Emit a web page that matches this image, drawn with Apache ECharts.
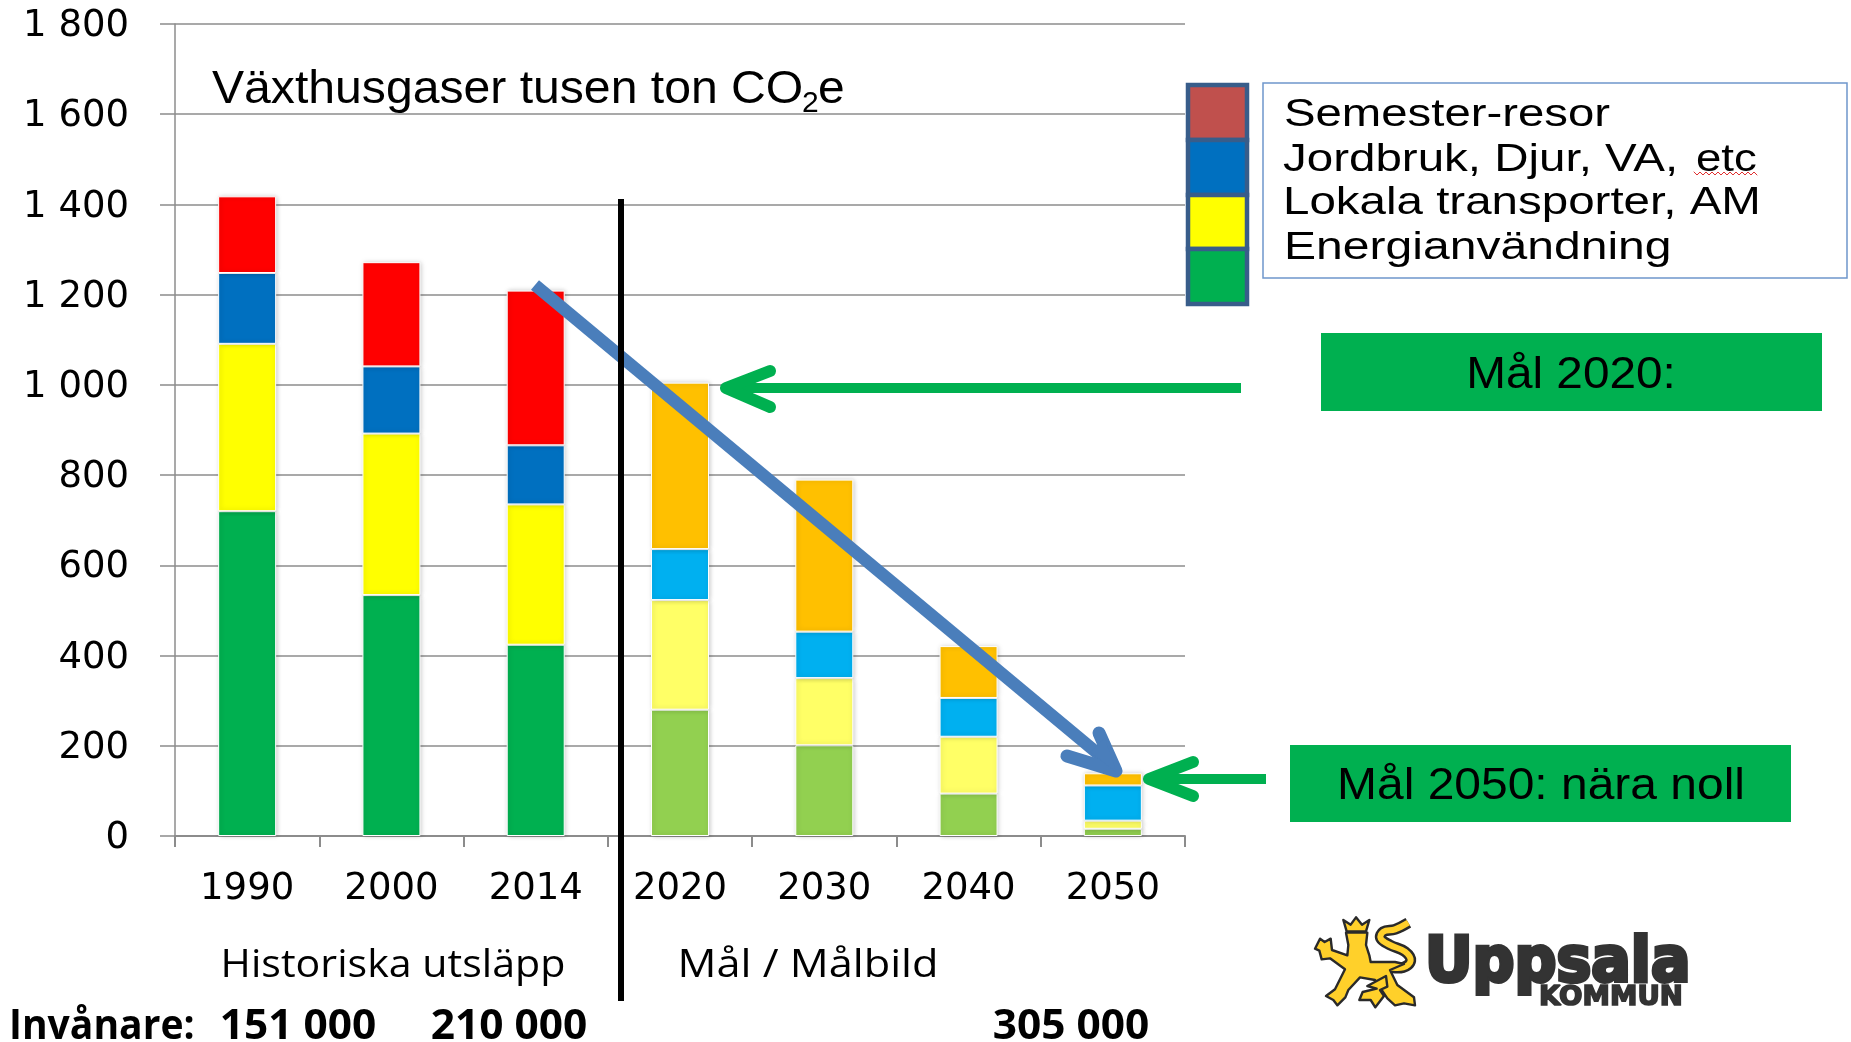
<!DOCTYPE html>
<html><head><meta charset="utf-8">
<style>html,body{margin:0;padding:0;background:#fff}#c{width:1851px;height:1042px}</style>
<script src="https://cdn.jsdelivr.net/npm/echarts@6/dist/echarts.min.js"></script>
</head><body><div id="c"></div>
<script>
const categories = ['1990','2000','2014','2020','2030','2040','2050'];
const energianvandning = [720,534,424,280,201,94,16];
const lokalaTransporter = [371,358,311,243,149,126,18];
const jordbruk = [157,149,131,113,103,86,78];
const semesterresor = [170,231,343,369,337,115,27];
const historicColors = ['#00B050','#FFFF00','#0070C0','#FF0000'];
const goalColors = ['#92D050','#FFFF66','#00B0F0','#FFC000'];
const seriesNames = ['Energianvändning','Lokala transporter, AM','Jordbruk, Djur, VA, etc','Semester-resor'];
const seriesValues = [energianvandning,lokalaTransporter,jordbruk,semesterresor];
const legendLines = ['Semester-resor','Jordbruk, Djur, VA,','etc','Lokala transporter, AM','Energianvändning'];
const historicCount = 3;

const chart = echarts.init(document.getElementById('c'),null,{renderer:'canvas'});
const sans='"Liberation Sans",Arial,sans-serif', wide='"DejaVu Sans",sans-serif', cal='"Open Sans",sans-serif';
const axisGrey='#8C8C8C';
function txt(s,x,y,size,o){o=o||{};return {type:'text',x:x,y:y,z:o.z||30,originX:0,originY:0,scaleX:o.sx||1,scaleY:o.sy||1,style:{text:s,x:0,y:0,font:(o.w||'normal')+' '+size+'px '+(o.f||sans),fill:o.c||'#000',align:o.a||'left',verticalAlign:'middle',stroke:o.st,lineWidth:o.lw||0}};}
function poly(pts,color,w,z,cap){return {type:'polyline',z:z||25,shape:{points:pts},style:{stroke:color,lineWidth:w,lineCap:cap||'round',lineJoin:cap?'miter':'round',fill:null}};}
function rect(x,y,w,h,fill,stroke,lw,z){return {type:'rect',z:z||20,shape:{x,y,width:w,height:h},style:{fill:fill,stroke:stroke,lineWidth:lw||0}};}

const wavy=[];for(let i=0,x=1694;x<=1758;i++,x+=3)wavy.push([x,i%2?175:172]);

// logo outline, in 3× logo-crop units
const lg=p=>p.map(([x,y])=>[1280+x/3,890+y/3]);
const lionBody=[[105,176],[120,146],[134,156],[152,146],[156,180],[202,196],[205,165],[198,128],[262,128],[258,165],[268,196],[272,216],[345,216],[372,222],[330,240],[352,285],[402,322],[405,346],[372,340],[345,346],[322,325],[285,270],[240,262],[205,300],[196,322],[172,346],[160,330],[138,318],[165,298],[195,238],[150,205],[125,208],[118,182]];
const lionCrown=[[190,90],[212,104],[228,82],[246,104],[268,90],[258,124],[200,124]];
const lionHook=[[262,288],[318,258],[322,290],[300,300],[312,318],[286,352],[272,330],[238,330],[248,306],[290,296]];
const lionTail=[[385,98],[345,118],[310,125],[302,145],[330,165],[375,185],[392,212],[370,232],[320,232],[270,232]];
const logoPoly=(pts,z)=>({type:'polygon',z:z||31,shape:{points:lg(pts)},style:{fill:'#FFD02A',stroke:'#2a2a2a',lineWidth:2.4,lineJoin:'round'}});
const tailEl=(c,w)=>({type:'polyline',z:30,shape:{points:lg(lionTail),smooth:0.4},style:{fill:null,stroke:c,lineWidth:w}});

const gfx=[
 // blue trend arrow
 poly([[535,285],[1108,762]],'#4A7EBB',12.5,23,'butt'),
 poly([[1099,733],[1116,771],[1067,756]],'#4A7EBB',13,23),
 {type:'polygon',z:23,shape:{points:[[1116,772],[1090,752],[1105,738]]},style:{fill:'#4A7EBB'}},
 // divider
 rect(618,199,6,802,'#000',null,0,24),
 // green arrows
 poly([[1241,388],[730,388]],'#00B050',10,25,'butt'),
 poly([[770,371],[726,388],[770,407]],'#00B050',12),
 poly([[1266,779],[1150,779]],'#00B050',10,25,'butt'),
 poly([[1193,762],[1149,779],[1193,796]],'#00B050',12),
 // title
 txt('Växthusgaser tusen ton CO',212,90,47,{sx:1.024}),
 txt('2',802,104,30),
 txt('e',818,90,47,{sx:1.02}),
 // legend swatches
 rect(1188,85,59,55,'#C0504D','#385D8A',4.5),
 rect(1188,140,59,55,'#0070C0','#385D8A',4.5),
 rect(1188,195,59,54,'#FFFF00','#385D8A',4.5),
 rect(1188,249,59,55,'#00B050','#385D8A',4.5),
 // legend box
 rect(1263,83,584,195,'#fff','#6F97CC',1.5),
 txt(legendLines[0],1284,116,38,{sx:1.245}),
 txt(legendLines[1],1283,161,38,{sx:1.25}),
 txt(legendLines[2],1696,161,38,{sx:1.2}),
 txt(legendLines[3],1283,204,38,{sx:1.25}),
 txt(legendLines[4],1284,249,38,{sx:1.265}),
 poly(wavy,'#E03030',1,31),
 // goal boxes
 rect(1321,333,501,78,'#00B050'),
 txt('Mål 2020:',1571,376,44,{a:'center',sx:1.085}),
 rect(1290,745,501,77,'#00B050'),
 txt('Mål 2050: nära noll',1541,787,44,{a:'center',sx:1.09}),
 // period labels
 txt('Historiska utsläpp',393,966,39,{a:'center',f:cal,sx:1.055}),
 txt('Mål / Målbild',808,966,39,{a:'center',f:cal,sx:1.11}),
 txt('Invånare:',9,1027,42,{f:cal,w:'bold',sx:.93}),
 txt('151 000',298,1027,42,{f:cal,w:'bold',a:'center',sx:1.01}),
 txt('210 000',509,1027,42,{f:cal,w:'bold',a:'center',sx:1.01}),
 txt('305 000',1071,1027,42,{f:cal,w:'bold',a:'center',sx:1.01}),
 // logo
 tailEl('#2a2a2a',11),
 tailEl('#FFD02A',6),
 logoPoly(lionBody),logoPoly(lionCrown),logoPoly(lionHook,32),
 txt('Uppsala',1425,965,63,{f:wide,w:'bold',c:'#333',st:'#333',lw:4,sx:.93}),
 txt('KOMMUN',1539,998,26,{f:wide,w:'bold',c:'#333',st:'#333',lw:1.6,sx:1.06}),
];

chart.setOption({
 animation:false,
 grid:{left:175,right:1851-1185,top:24,bottom:1042-836},
 xAxis:{type:'category',data:categories,
  axisLine:{lineStyle:{color:axisGrey,width:2}},
  axisTick:{show:true,alignWithLabel:false,length:11,lineStyle:{color:axisGrey,width:2}},
  axisLabel:{margin:35,fontFamily:'DejaVu Sans',fontSize:37,color:'#000'}},
 yAxis:{type:'value',min:0,max:1800,interval:200,
  axisLine:{show:true,lineStyle:{color:axisGrey,width:1.5}},
  axisTick:{show:true,length:15,lineStyle:{color:axisGrey,width:1.5}},
  splitLine:{lineStyle:{color:axisGrey,width:1.5}},
  axisLabel:{margin:46,fontFamily:'DejaVu Sans',fontSize:37,color:'#000',verticalAlign:'top',lineHeight:5,
   formatter:v=>v>=1000?Math.floor(v/1000)+' '+String(v%1000).padStart(3,'0'):String(v)}},
 series:seriesValues.map((vals,si)=>({
  name:seriesNames[si],type:'bar',stack:'total',barWidth:58,
  data:vals.map((v,i)=>({value:v,itemStyle:{color:(i<historicCount?historicColors:goalColors)[si]}})),
  itemStyle:{borderColor:'#fff',borderWidth:1,shadowBlur:5,shadowColor:'rgba(0,0,0,.22)',shadowOffsetX:1}
 })),
 graphic:{elements:gfx}
});
</script></body></html>
